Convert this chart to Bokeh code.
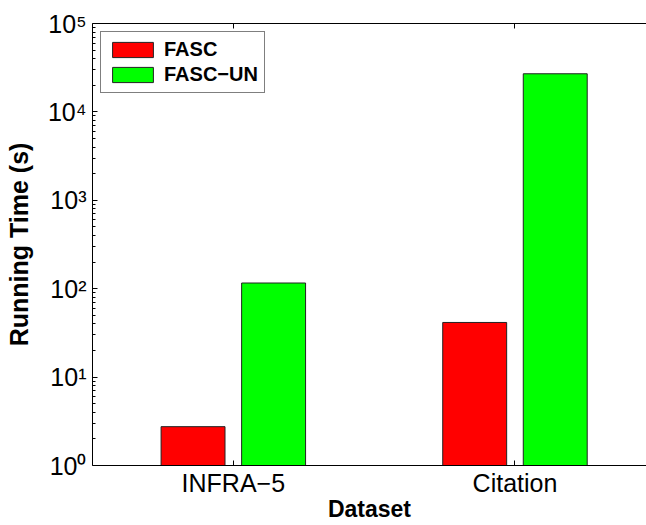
import numpy as np
from bokeh.plotting import figure
from bokeh.models import (FixedTicker, LinearAxis, Legend, LegendItem, Range1d,
                          ColumnDataSource)
from bokeh.embed import file_html
from bokeh.resources import INLINE

# ---- data ----
categories = ["INFRA\u22125", "Citation"]
series_names = ["FASC", "FASC\u2212UN"]
fasc = [2.75, 41.5]
fasc_un = [116.0, 27000.0]
y_ticks = [1, 10, 100, 1000, 10000, 100000]
y_tick_labels = ["10\u2070", "10\u00b9", "10\u00b2", "10\u00b3", "10\u2074", "10\u2075"]
colors = ["#FF0000", "#00FF00"]

FONT = "Liberation Sans"

p = figure(width=646, height=525, y_axis_type="log",
           x_range=Range1d(0.5, 2.467), y_range=Range1d(1, 1e5),
           output_backend="svg", toolbar_location=None,
           min_border_left=92, min_border_right=0,
           min_border_top=23, min_border_bottom=60)

p.xgrid.visible = False
p.ygrid.visible = False
p.outline_line_color = None
p.background_fill_color = "white"
p.border_fill_color = "white"

cat_x = np.arange(1, len(categories) + 1)
bar_w = 0.227
offsets = [-0.143, 0.143]
renderers = []
for vals, off, col in zip([fasc, fasc_un], offsets, colors):
    src = ColumnDataSource(dict(x=cat_x + off, top=vals, bottom=[1] * len(vals)))
    r = p.vbar(x="x", top="top", bottom="bottom", width=bar_w, source=src,
               fill_color=col, line_color="#222222", line_width=1)
    renderers.append(r)

# x axis
xa = p.xaxis[0]
xa.ticker = FixedTicker(ticks=list(cat_x))
xa.major_label_overrides = {int(i): c for i, c in zip(cat_x, categories)}
xa.major_label_text_font = FONT
xa.major_label_text_font_size = "25px"
xa.major_label_text_color = "black"
xa.major_label_standoff = 3
xa.major_tick_in = 5
xa.major_tick_out = 0
xa.minor_tick_line_color = None
xa.axis_line_color = "black"
xa.axis_line_width = 1
xa.axis_label = "Dataset"
xa.axis_label_text_font = FONT
xa.axis_label_text_font_style = "bold"
xa.axis_label_text_font_size = "23px"
xa.axis_label_text_color = "black"
xa.axis_label_standoff = -4

# y axis
minor = [m * d for d in y_ticks[:-1] for m in range(2, 10)]
ya = p.yaxis[0]
ya.ticker = FixedTicker(ticks=y_ticks, minor_ticks=minor)
ya.major_label_overrides = {t: l for t, l in zip(y_ticks, y_tick_labels)}
ya.major_label_text_font = FONT
ya.major_label_text_font_size = "25px"
ya.major_label_text_color = "black"
ya.major_label_standoff = 6
ya.major_tick_in = 5
ya.major_tick_out = 0
ya.minor_tick_in = 3
ya.minor_tick_out = 0
ya.axis_line_color = "black"
ya.axis_line_width = 1
ya.axis_label = "Running Time (s)"
ya.axis_label_text_font = FONT
ya.axis_label_text_font_style = "bold"
ya.axis_label_text_font_size = "25px"
ya.axis_label_text_color = "black"
ya.axis_label_standoff = 12

# top mirror axis: line plus inward tick marks only (no labels)
top = LinearAxis(ticker=FixedTicker(ticks=[], minor_ticks=list(cat_x)),
                 major_label_standoff=0,
                 major_tick_in=0, major_tick_out=0,
                 minor_tick_in=5, minor_tick_out=0,
                 minor_tick_line_color="black", axis_line_color="black")
p.add_layout(top, "above")

legend = Legend(items=[LegendItem(label=n, renderers=[r]) for n, r in zip(series_names, renderers)],
                location="top_left", margin=8, padding=6, spacing=2,
                glyph_width=51, glyph_height=19, label_height=19,
                label_standoff=6, border_line_color="black", border_line_width=1,
                label_text_font=FONT, label_text_font_style="bold",
                label_text_font_size="20px", label_text_color="black",
                background_fill_color="white", background_fill_alpha=1)
p.add_layout(legend, "center")

open("out.html", "w").write(file_html(p, INLINE))
